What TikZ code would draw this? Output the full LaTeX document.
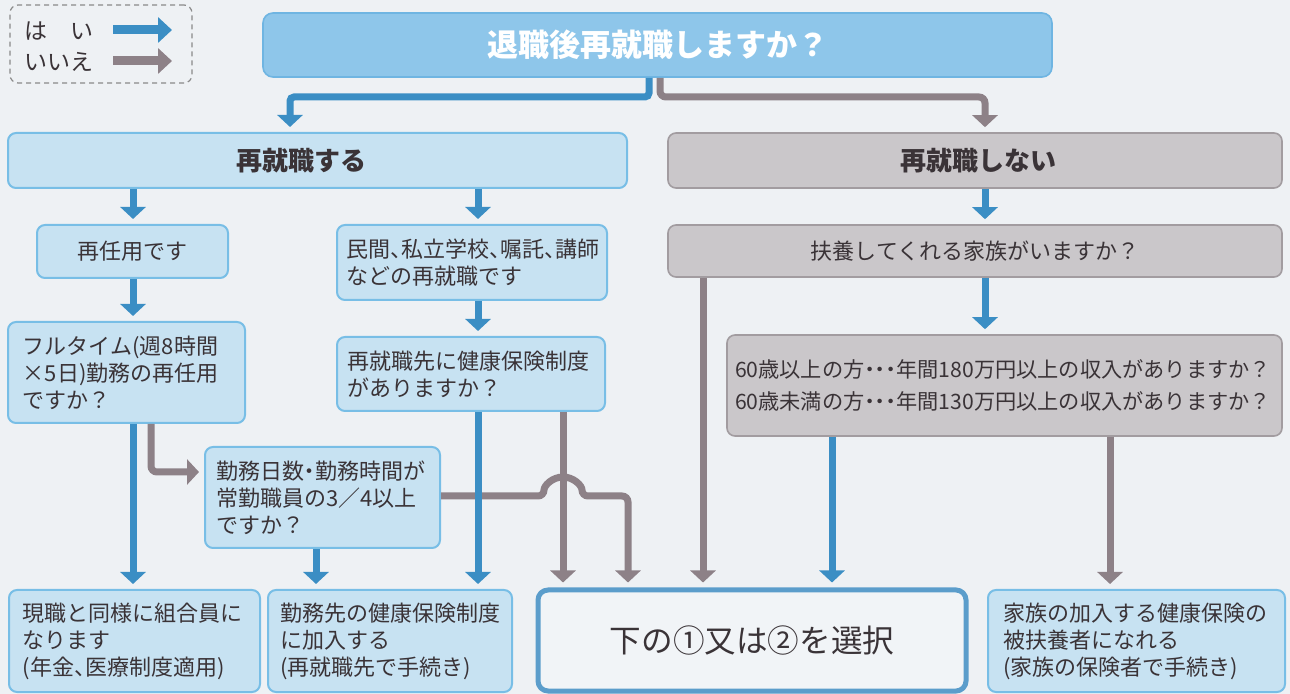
\documentclass[tikz,border=0pt]{standalone}
\usepackage{fontspec}
\setmainfont{Noto Sans CJK JP}
\newfontfamily\halffont[CharacterWidth=AlternateHalf]{Noto Sans CJK JP}
\newcommand\halfp[1]{{\halffont #1}}
\usetikzlibrary{arrows.meta,calc}
\definecolor{bg}{HTML}{EEF1F4}
\definecolor{topfill}{HTML}{8EC6EA}
\definecolor{topdraw}{HTML}{6FB5E2}
\definecolor{lfill}{HTML}{C7E2F2}
\definecolor{ldraw}{HTML}{78BEE6}
\definecolor{gfill}{HTML}{CAC7CA}
\definecolor{gdraw}{HTML}{A29CA0}
\definecolor{yesc}{HTML}{3B8EC4}
\definecolor{noc}{HTML}{8D8187}
\definecolor{txt}{HTML}{3A3337}
\definecolor{selfill}{HTML}{F1F4F7}
\definecolor{seldraw}{HTML}{5B9DCB}
\definecolor{legdraw}{HTML}{8A8A8A}
\newcommand\mkbox[8][]{%
  \pgfmathsetmacro\mkbw{(#5-#3-2*#7)*0.5}%
  \pgfmathsetmacro\mkbh{(#6-#4)*0.5}%
  \pgfmathsetmacro\mkbp{#7*0.5}%
  \node[#1, text width=\mkbw pt, inner xsep=\mkbp pt, inner ysep=0pt, minimum height=\mkbh pt] (#2) at ({(#3+#5)/2},{(#4+#6)/2}) {#8};}
\tikzset{
  bodyf/.style={font=\fontsize{11pt}{13.5pt}\selectfont},
  headf/.style={font=\fontsize{13pt}{15pt}\selectfont\bfseries},
  lbox/.style={draw=ldraw, fill=lfill, line width=1pt, rounded corners=4pt, text=txt, bodyf, align=left},
  gbox/.style={draw=gdraw, fill=gfill, line width=0.8pt, rounded corners=4pt, text=txt, bodyf, align=left},
  topbox/.style={draw=topdraw, fill=topfill, line width=0.8pt, rounded corners=5pt, text=white, align=center, font=\fontsize{15.5pt}{17pt}\selectfont\bfseries},
  selbox/.style={draw=seldraw, fill=selfill, line width=2.5pt, rounded corners=5pt, text=txt, align=center, font=\fontsize{15.8pt}{18pt}\selectfont},
  legbox/.style={draw=legdraw, line width=0.6pt, dash pattern=on 2.5pt off 2pt, rounded corners=4pt},
  legtext/.style={anchor=west, text=txt, inner sep=0pt, font=\fontsize{11.5pt}{13pt}\selectfont},
  yes/.style={draw=yesc, line width=3.5pt, -{Triangle[width=12.5pt,length=6pt]}, shorten >=2.5pt, rounded corners=2pt},
  no/.style={draw=noc, line width=3.5pt, -{Triangle[width=12.5pt,length=6pt]}, shorten >=2.5pt, rounded corners=3pt},
  legyes/.style={draw=yesc, line width=4.5pt, -{Triangle[width=12.5pt,length=7pt]}},
  legno/.style={draw=noc, line width=4.5pt, -{Triangle[width=12.5pt,length=7pt]}},
}
\begin{document}
\begin{tikzpicture}[x=0.5pt, y=-0.5pt]
\fill[bg] (0,0) rectangle (1290,694);
\useasboundingbox (0,0) rectangle (1290,694);
% legend
\mkbox[legbox]{legend}{10}{5}{192}{83}{5}{}
\node[legtext] (lyes) at (24,31) {は　い};
\node[legtext] (lno) at (24,62) {いいえ};
\coordinate (lya) at (113,30); \coordinate (lyb) at (172,30);
\coordinate (lna) at (113,61); \coordinate (lnb) at (172,61);
\draw[legyes] (lya) -- (lyb);
\draw[legno] (lna) -- (lnb);
% boxes
\mkbox[topbox]{top}{263}{13}{1052}{77}{10}{退職後再就職しますか？}
\mkbox[lbox,headf,align=left]{re}{8}{133}{627}{188}{228}{再就職する}
\mkbox[gbox,headf,align=left]{nre}{668}{133}{1282}{188}{232}{再就職しない}
\mkbox[lbox,align=left]{ninyo}{37}{225}{228}{278}{40}{再任用です}
\mkbox[lbox]{min}{337}{225}{607}{300}{9}{民間\halfp{、}私立学校\halfp{、}嘱託\halfp{、}講師\\などの再就職です}
\mkbox[lbox]{full}{8}{322}{245}{423}{15}{フルタイム(週8時間\\×5日)勤務の再任用\\ですか？}
\mkbox[lbox]{saki}{337}{337}{605}{411}{10}{再就職先に健康保険制度\\がありますか？}
\mkbox[lbox]{kinmu}{205}{447}{440}{548}{11}{勤務日数\halfp{・}勤務時間が\\常勤職員の3／4以上\\ですか？}
\mkbox[gbox,align=center]{fuyo}{668}{225}{1282}{277}{10}{扶養してくれる家族がいますか？}
\mkbox[gbox,font=\fontsize{10.6pt}{16pt}\selectfont]{sai60}{727}{335}{1282}{436}{8}{60歳以上の方\halfp{・・・}年間180万円以上の収入がありますか？\\60歳未満の方\halfp{・・・}年間130万円以上の収入がありますか？}
\mkbox[lbox]{gen}{9}{590}{260}{692}{14}{現職と同様に組合員に\\なります\\(年金\halfp{、}医療制度適用)}
\mkbox[lbox]{kin2}{268}{590}{512}{692}{12}{勤務先の健康保険制度\\に加入する\\(再就職先で手続き)}
\mkbox[selbox]{sel}{538}{590}{966}{691}{10}{下の①又は②を選択}
\mkbox[lbox]{kazoku}{988}{590}{1285}{692}{15}{家族の加入する健康保険の\\被扶養者になれる\\(家族の保険者で手続き)}
% coordinates for connector lanes
\coordinate (xb) at (649,0); \coordinate (xg) at (660,0); \coordinate (yh) at (0,97);
\coordinate (xre) at (290,0); \coordinate (xnre) at (985,0);
\coordinate (xa) at (133,0); \coordinate (xm) at (478,0);
\coordinate (xf) at (151,0); \coordinate (yk) at (0,472);
\coordinate (xk) at (316,0); \coordinate (xs) at (563,0);
\coordinate (hopA) at (544,496); \coordinate (xr) at (628,0);
\coordinate (xp) at (703,0); \coordinate (xq) at (832,0); \coordinate (xz) at (1110,0);
% connectors
\draw[yes] (xb |- top.south) -- (xb |- yh) -- (xre |- yh) -- (xre |- re.north);
\draw[no] (xg |- top.south) -- (xg |- yh) -- (xnre |- yh) -- (xnre |- nre.north);
\draw[yes] (xa |- re.south) -- (xa |- ninyo.north);
\draw[yes] (xm |- re.south) -- (xm |- min.north);
\draw[yes] (xa |- ninyo.south) -- (xa |- full.north);
\draw[yes] (xm |- min.south) -- (xm |- saki.north);
\draw[yes] (xa |- full.south) -- (xa |- gen.north);
\draw[no] (xf |- full.south) -- (xf |- yk) -- (kinmu.west |- yk);
\draw[yes] (xk |- kinmu.south) -- (xk |- kin2.north);
\draw[no] (xs |- saki.south) -- (xs |- sel.north);
\draw[no] (kinmu.east |- hopA) -- (hopA) arc[start angle=180, end angle=0, radius=9.5pt] -- (xr |- hopA) -- (xr |- sel.north);
\draw[yes] (xm |- saki.south) -- (xm |- kin2.north);
\draw[no] (xp |- fuyo.south) -- (xp |- sel.north);
\draw[yes] (xnre |- nre.south) -- (xnre |- fuyo.north);
\draw[yes] (xnre |- fuyo.south) -- (xnre |- sai60.north);
\draw[yes] (xq |- sai60.south) -- (xq |- sel.north);
\draw[no] (xz |- sai60.south) -- (xz |- kazoku.north);
\end{tikzpicture}
\end{document}
